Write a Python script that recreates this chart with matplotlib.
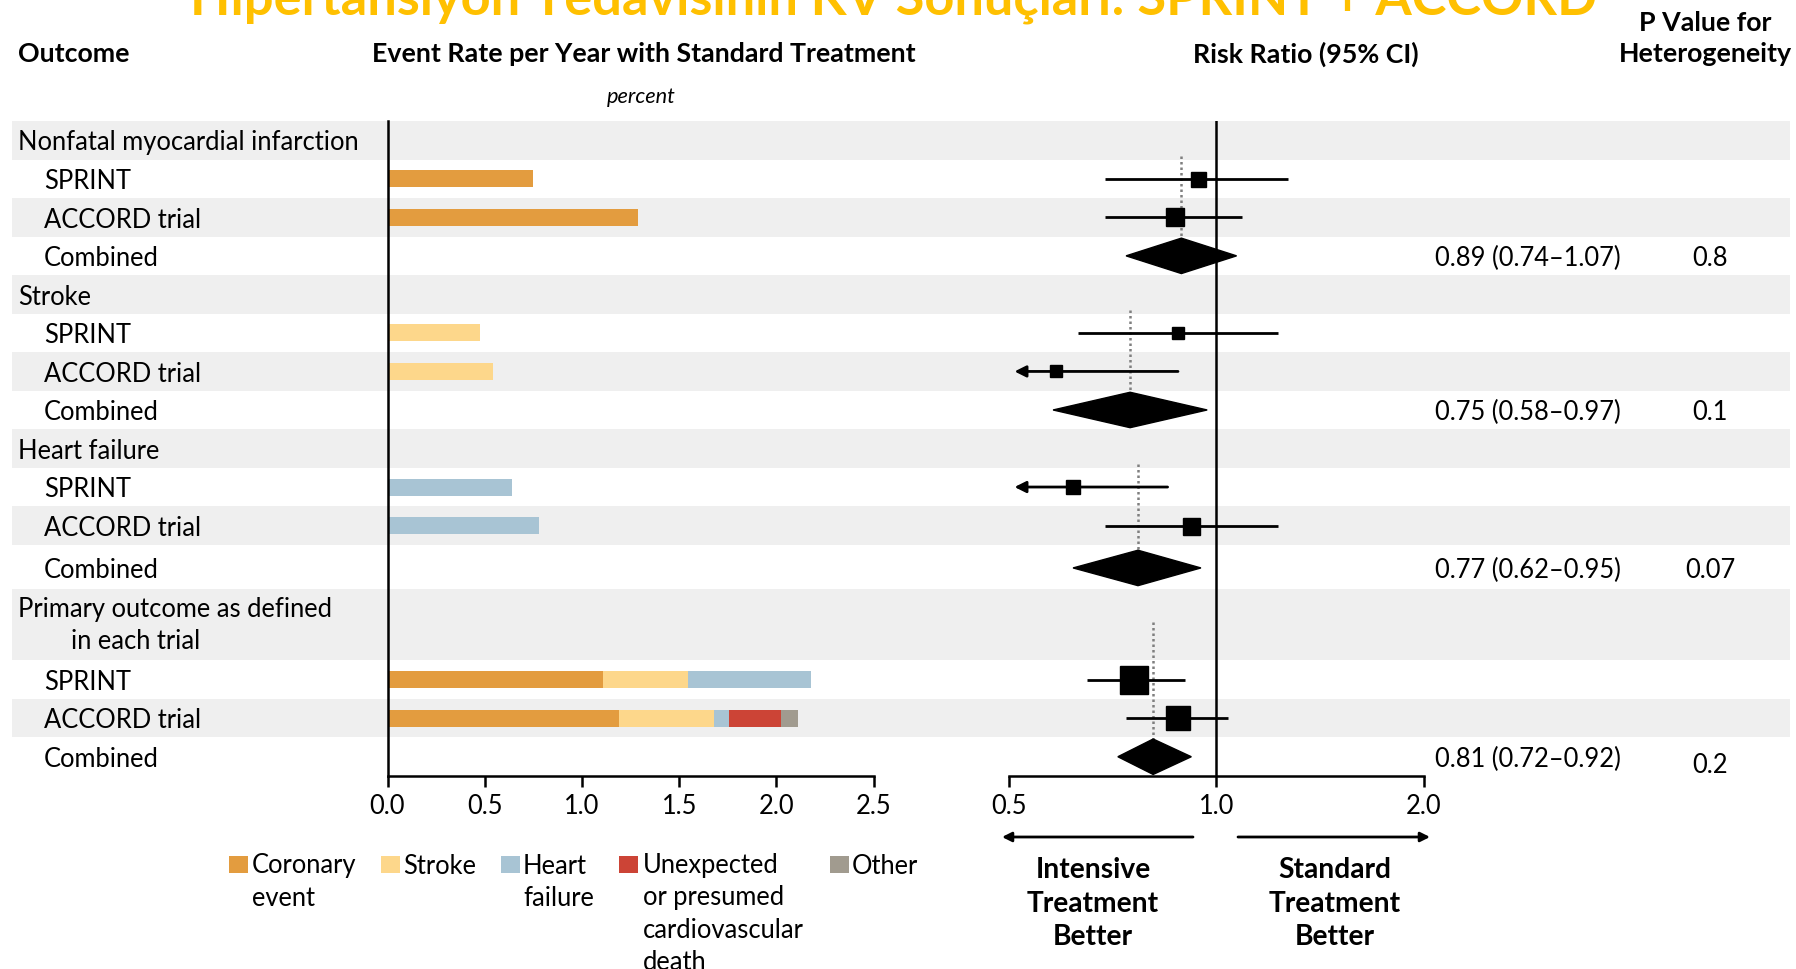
import matplotlib
matplotlib.use("Agg")
import matplotlib.pyplot as plt
from matplotlib.patches import Rectangle, Polygon, FancyArrowPatch
import matplotlib.transforms as mtransforms

# ---------------- data ----------------
title = "Hipertansiyon Tedavisinin KV Sonuçları: SPRINT + ACCORD"
outcomes = ["Nonfatal myocardial infarction", "Stroke", "Heart failure",
            "Primary outcome as defined"]
outcome_line2 = ["", "", "", "in each trial"]
trials = ["SPRINT", "ACCORD trial"]
combined_label = "Combined"

# event rate per year with standard treatment (percent), [SPRINT, ACCORD]
mi_rate = [0.75, 1.29]
stroke_rate = [0.475, 0.54]
hf_rate = [0.64, 0.78]
# primary outcome components, [SPRINT, ACCORD]
primary_coronary = [1.11, 1.19]
primary_stroke = [0.435, 0.49]
primary_hf = [0.635, 0.077]
primary_cvdeath = [0.0, 0.265]
primary_other = [0.0, 0.09]

component_names = ["Coronary\nevent", "Stroke", "Heart\nfailure",
                   "Unexpected\nor presumed\ncardiovascular\ndeath", "Other"]
component_colors = ["#E39C3F", "#FDD78B", "#A8C4D4", "#CC4436", "#A19B8F"]

# risk ratios per trial (order: MI S, MI A, Stroke S, Stroke A, HF S, HF A, Prim S, Prim A)
trial_rr = [0.94, 0.87, 0.88, 0.585, 0.62, 0.92, 0.76, 0.88]
trial_lo = [0.69, 0.69, 0.63, 0.39, 0.45, 0.69, 0.65, 0.74]
trial_hi = [1.27, 1.09, 1.23, 0.88, 0.85, 1.23, 0.90, 1.04]
trial_weight_px = [15, 18, 12, 12, 14, 17, 28, 24]

combined_rr = [0.89, 0.75, 0.77, 0.81]
combined_lo = [0.74, 0.58, 0.62, 0.72]
combined_hi = [1.07, 0.97, 0.95, 0.92]
het_p = ["0.8", "0.1", "0.07", "0.2"]

bar_ticks = [0.0, 0.5, 1.0, 1.5, 2.0, 2.5]
rr_ticks = [0.5, 1.0, 2.0]

# ---------------- layout ----------------
W, H = 1796, 969
fig = plt.figure(figsize=(W / 100, H / 100), dpi=100)
plt.rcParams['font.family'] = ['Lato', 'DejaVu Sans']
BAND = "#EFEFEF"
TOFF = 0.07  # small downward offset of row text (rows)

def P(x, y):
    return (x / W, 1 - y / H)

renderer = fig.canvas.get_renderer()

def fit(t, target):
    w = t.get_window_extent(renderer).width
    t.set_fontsize(t.get_fontsize() * target / w)
    return t.get_fontsize()

y_top, y_bot = 121, 776
ax_bg = fig.add_axes([12 / W, 1 - y_bot / H, (1790 - 12) / W, (y_bot - y_top) / H], zorder=0)
ax_bg.set_xlim(0, 1); ax_bg.set_ylim(16.5, -0.5); ax_bg.axis("off")
ax1 = fig.add_axes([387.5 / W, 1 - y_bot / H, (873.7 - 387.5) / W, (y_bot - y_top) / H], zorder=2)
ax2 = fig.add_axes([1008.6 / W, 1 - y_bot / H, (1424 - 1008.6) / W, (y_bot - y_top) / H], zorder=2)
for ax in (ax1, ax2):
    ax.set_facecolor("none")
    ax.set_ylim(16.5, -0.5)

rowtr = mtransforms.blended_transform_factory(fig.transFigure, ax_bg.transData)

header_rows = [0, 4, 8, 12.1]
sprint_rows = [1, 5, 9, 14]
accord_rows = [2, 6, 10, 15]
comb_rows = [3, 7, 11.1, 16]

# bands
for r in header_rows[:3]:
    ax_bg.axhspan(r - 0.5, r + 0.5, color=BAND, lw=0)
ax_bg.axhspan(11.65, 13.5, color=BAND, lw=0)
for r in accord_rows:
    ax_bg.axhspan(r - 0.5, r + 0.5, color=BAND, lw=0)

# title
t = fig.text(*P(893, 15), title, ha="center", va="baseline", fontsize=34,
             fontweight="bold", color="#FFC000")
fit(t, 1409)

# body font size
tref = fig.text(18 / W, header_rows[0] + TOFF, outcomes[0], transform=rowtr,
                ha="left", va="center", fontsize=16)
fs = fit(tref, 342)
href = fig.text(*P(644, 54), "Event Rate per Year with Standard Treatment",
                ha="center", va="center", fontsize=16, fontweight="bold")
hfs = fit(href, 546)

fig.text(*P(18, 54), "Outcome", ha="left", va="center", fontsize=hfs, fontweight="bold")
fig.text(*P(641, 97), "percent", ha="center", va="center", fontsize=fs * 0.85, style="italic")
fig.text(*P(1306, 54), "Risk Ratio (95% CI)", ha="center", va="center", fontsize=hfs, fontweight="bold")
fig.text(*P(1705, 23), "P Value for", ha="center", va="center", fontsize=hfs, fontweight="bold")
fig.text(*P(1705, 54), "Heterogeneity", ha="center", va="center", fontsize=hfs, fontweight="bold")

# row labels
for g in range(4):
    if g > 0:
        fig.text(18 / W, header_rows[g] + TOFF, outcomes[g], transform=rowtr,
                 ha="left", va="center", fontsize=fs)
    if outcome_line2[g]:
        fig.text(71 / W, 12.95 + TOFF, outcome_line2[g], transform=rowtr,
                 ha="left", va="center", fontsize=fs)
    fig.text(44 / W, sprint_rows[g] + TOFF, trials[0], transform=rowtr, ha="left", va="center", fontsize=fs)
    fig.text(44 / W, accord_rows[g] + TOFF, trials[1], transform=rowtr, ha="left", va="center", fontsize=fs)
    fig.text(44 / W, comb_rows[g] + TOFF, combined_label, transform=rowtr, ha="left", va="center", fontsize=fs)
    ci = f"{combined_rr[g]:.2f} ({combined_lo[g]:.2f}\u2013{combined_hi[g]:.2f})"
    fig.text(1435 / W, comb_rows[g] + TOFF, ci, transform=rowtr, ha="left", va="center", fontsize=fs)
    fig.text(1710 / W, comb_rows[g] + TOFF + (0.15 if g == 3 else 0), het_p[g],
             transform=rowtr, ha="center", va="center", fontsize=fs)

# ---------------- bar panel ----------------
bh = 0.44
single = [mi_rate, stroke_rate, hf_rate]
single_color = [component_colors[0], component_colors[1], component_colors[2]]
for g in range(3):
    ax1.barh([sprint_rows[g], accord_rows[g]], single[g], height=bh,
             color=single_color[g], lw=0)
components = [primary_coronary, primary_stroke, primary_hf, primary_cvdeath, primary_other]
left = [0.0, 0.0]
for comp, col in zip(components, component_colors):
    ax1.barh([sprint_rows[3], accord_rows[3]], comp, left=left, height=bh, color=col, lw=0)
    left = [l + c for l, c in zip(left, comp)]

ax1.set_xlim(0, 2.5)
ax1.set_xticks(bar_ticks)
ax1.set_xticklabels([f"{v:.1f}" for v in bar_ticks])
ax1.set_yticks([])
for s in ("top", "right"):
    ax1.spines[s].set_visible(False)
for s in ("left", "bottom"):
    ax1.spines[s].set_linewidth(1.8)
ax1.tick_params(axis="x", direction="out", length=8, width=1.8, pad=5, labelsize=fs)

# ---------------- forest panel ----------------
ax2.set_xscale("log")
ax2.set_xlim(0.5, 2.0)
ax2.set_xticks(rr_ticks)
ax2.set_xticklabels([f"{v:.1f}" for v in rr_ticks])
ax2.minorticks_off()
ax2.set_yticks([])
for s in ("top", "right", "left"):
    ax2.spines[s].set_visible(False)
ax2.spines["bottom"].set_linewidth(1.8)
ax2.tick_params(axis="x", direction="out", length=8, width=1.8, pad=5, labelsize=fs)
ax2.axvline(1.0, color="black", lw=1.8, zorder=3)

trial_rows = []
for g in range(4):
    trial_rows += [sprint_rows[g], accord_rows[g]]

for rr, lo, hi, wpx, r in zip(trial_rr, trial_lo, trial_hi, trial_weight_px, trial_rows):
    if lo < 0.5:
        ax2.annotate("", xy=(0.51, r), xytext=(hi, r),
                     arrowprops=dict(arrowstyle="-|>", lw=2, color="black",
                                     mutation_scale=17, shrinkA=0, shrinkB=0),
                     annotation_clip=False, zorder=4)
    else:
        ax2.hlines(r, lo, hi, color="black", lw=2, zorder=4)
    ax2.plot(rr, r, marker="s", ms=wpx * 0.72, color="black", zorder=5, clip_on=False)

dh = 0.46
for g in range(4):
    r = comb_rows[g]
    ax2.vlines(combined_rr[g], header_rows[g] + 0.4, r, colors="#7F7F7F",
               linestyles=(0, (1, 1.2)), lw=1.8, zorder=2)
    poly = Polygon([(combined_lo[g], r), (combined_rr[g], r - dh),
                    (combined_hi[g], r), (combined_rr[g], r + dh)],
                   closed=True, color="black", zorder=5, clip_on=False)
    ax2.add_patch(poly)

# direction arrows
for (x0, x1) in [(1193, 1002), (1238, 1430)]:
    fig.add_artist(FancyArrowPatch(P(x0, 837), P(x1, 837), transform=fig.transFigure,
                                   arrowstyle="-|>", mutation_scale=14, lw=2, color="black",
                                   shrinkA=0, shrinkB=0))
for cx, lines in [(1093, ["Intensive", "Treatment", "Better"]),
                  (1335, ["Standard", "Treatment", "Better"])]:
    for i, ln in enumerate(lines):
        fig.text(*P(cx, 870 + 33.5 * i), ln, ha="center", va="center",
                 fontsize=hfs * 1.05, fontweight="bold")

# legend
sq_x = [229, 381, 501, 619, 830]
tx_x = [252, 403, 523, 643, 852]
for name, col, sx, tx in zip(component_names, component_colors, sq_x, tx_x):
    fig.add_artist(Rectangle(P(sx, 873), 19 / W, 17 / H, transform=fig.transFigure,
                             color=col, lw=0))
    for i, ln in enumerate(name.split("\n")):
        fig.text(*P(tx, 866 + 32 * i), ln, ha="left", va="center", fontsize=fs)

fig.savefig("out.png", dpi=100)
